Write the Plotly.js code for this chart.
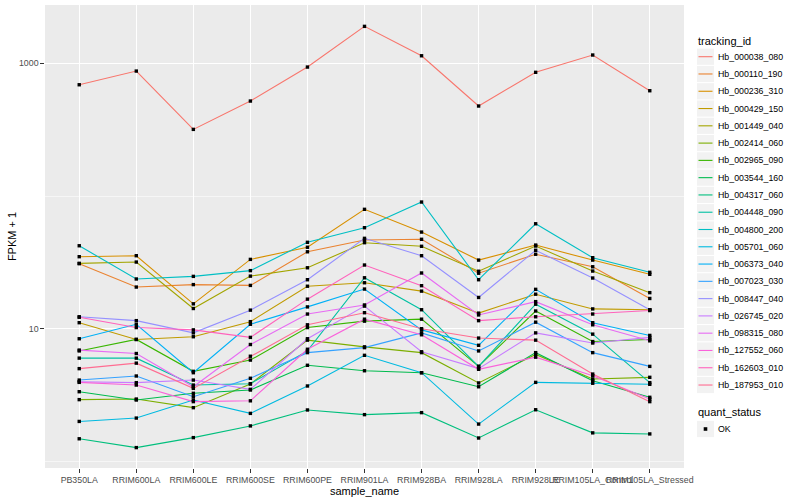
<!DOCTYPE html>
<html><head><meta charset="utf-8">
<script src="https://cdn.plot.ly/plotly-3.0.1.min.js"></script>
<style>html,body{margin:0;padding:0;background:#fff}#chart{width:800px;height:500px}</style>
</head><body><div id="chart"></div>
<script>
const samples = ["PB350LA","RRIM600LA","RRIM600LE","RRIM600SE","RRIM600PE","RRIM901LA","RRIM928BA","RRIM928LA","RRIM928LE","RRIM105LA_Control","RRIM105LA_Stressed"];
const trackingIds = ["Hb_000038_080","Hb_000110_190","Hb_000236_310","Hb_000429_150","Hb_001449_040","Hb_002414_060","Hb_002965_090","Hb_003544_160","Hb_004317_060","Hb_004448_090","Hb_004800_200","Hb_005701_060","Hb_006373_040","Hb_007023_030","Hb_008447_040","Hb_026745_020","Hb_098315_080","Hb_127552_060","Hb_162603_010","Hb_187953_010"];
const colors = ["#F8766D","#EA8331","#D89000","#C09B00","#A3A500","#7CAE00","#39B600","#00BB4E","#00BF7D","#00C1A3","#00BFC4","#00BAE0","#00B0F6","#35A2FF","#9590FF","#C77CFF","#E76BF3","#FA62DB","#FF62BC","#FF6C91"];
const yTickVals = [10, 1000];
const yTickText = ["10", "1000"];
const yMinorVals = [1, 100];

// FPKM + 1 per sample, one array per tracking_id
const s000038_080 = [690, 875, 318, 520, 938, 1901, 1141, 477, 856, 1156, 622];
const s000110_190 = [30.9, 20.6, 21.5, 21.2, 38.0, 46.6, 47.2, 26.2, 36.4, 29.3, 16.9];
const s000236_310 = [34.9, 35.5, 15.4, 33.3, 41.1, 79.4, 53.5, 32.9, 42.7, 32.9, 25.7];
const s000429_150 = [11.1, 8.3, 8.7, 11.3, 20.9, 22.2, 19.2, 13.1, 18.2, 14.1, 13.9];
const s001449_040 = [31.1, 31.8, 14.2, 24.9, 28.8, 44.5, 41.8, 27.1, 42.0, 27.2, 18.7];
const s002414_060 = [2.92, 2.95, 2.54, 3.83, 8.2, 7.3, 6.6, 3.90, 6.4, 4.18, 4.30];
const s002965_090 = [6.8, 8.3, 4.77, 5.8, 10.2, 11.4, 11.8, 5.2, 13.6, 8.0, 8.3];
const s003544_160 = [3.35, 2.90, 3.26, 3.45, 5.3, 4.82, 4.66, 3.65, 6.6, 4.05, 3.04];
const s004317_060 = [1.48, 1.27, 1.51, 1.85, 2.44, 2.25, 2.33, 1.50, 2.45, 1.64, 1.61];
const s004448_090 = [6.0, 6.0, 3.76, 3.85, 6.8, 24.2, 13.9, 5.2, 15.3, 9.1, 3.92];
const s004800_200 = [42.2, 23.7, 24.8, 27.4, 44.8, 57.7, 90.1, 23.4, 61.8, 34.3, 26.6];
const s005701_060 = [2.00, 2.12, 2.90, 2.30, 3.70, 6.3, 4.66, 1.91, 3.94, 3.88, 3.81];
const s006373_040 = [8.4, 10.8, 4.66, 10.8, 14.6, 19.9, 9.8, 7.5, 19.8, 11.1, 8.9];
const s007023_030 = [4.10, 4.40, 3.07, 4.23, 6.6, 7.2, 9.3, 6.8, 11.2, 6.6, 5.2];
const s008447_040 = [12.3, 11.5, 9.3, 13.8, 23.4, 48.0, 35.5, 17.2, 39.0, 24.1, 13.9];
const s026745_020 = [3.98, 3.92, 4.10, 3.49, 8.4, 14.8, 6.7, 5.0, 9.3, 7.8, 8.6];
const s098315_080 = [6.9, 6.5, 3.65, 7.6, 12.9, 15.1, 26.3, 12.7, 16.0, 10.7, 8.1];
const s127552_060 = [3.94, 3.76, 2.82, 2.86, 7.0, 11.8, 9.0, 4.94, 6.1, 4.42, 2.95];
const s162603_010 = [12.2, 10.2, 9.8, 8.6, 16.7, 30.2, 21.1, 11.5, 12.3, 12.9, 13.7];
const s187953_010 = [5.0, 5.5, 3.55, 6.2, 10.7, 13.2, 10.0, 8.5, 8.2, 4.55, 2.82];

const seriesValues = [s000038_080, s000110_190, s000236_310, s000429_150, s001449_040, s002414_060, s002965_090, s003544_160, s004317_060, s004448_090, s004800_200, s005701_060, s006373_040, s007023_030, s008447_040, s026745_020, s098315_080, s127552_060, s162603_010, s187953_010];

const FONT = "Liberation Sans, Arial, Helvetica, sans-serif";

const traces = trackingIds.map((id, i) => ({
  type: "scatter", mode: "lines", x: samples, y: seriesValues[i], name: id,
  line: { color: colors[i], width: 1.1 }, showlegend: false, hoverinfo: "skip"
}));
const ptsX = [], ptsY = [];
seriesValues.forEach(v => v.forEach((val, j) => { ptsX.push(samples[j]); ptsY.push(val); }));
traces.push({
  type: "scatter", mode: "markers", x: ptsX, y: ptsY, name: "OK",
  marker: { color: "#000000", size: 3.4, symbol: "square" }, showlegend: false, hoverinfo: "skip"
});

// plot-area geometry (px) for the hand-laid legend
const PL = 45, PR = 684, PT = 5, PB = 468;
const px = x => (x - PL) / (PR - PL);
const py = y => (PB - y) / (PB - PT);

const shapes = [], annotations = [];
annotations.push({ xref: "paper", yref: "paper", x: px(696), y: py(40.7), xanchor: "left", yanchor: "middle",
  text: "tracking_id", showarrow: false, font: { family: FONT, size: 11, color: "#000000" } });
trackingIds.forEach((id, i) => {
  const cy = 56.7 + i * 17.28;
  shapes.push({ type: "rect", xref: "paper", yref: "paper", x0: px(697), x1: px(714), y0: py(cy - 8.1), y1: py(cy + 8.1),
    fillcolor: "#F2F2F2", line: { width: 0 }, layer: "below" });
  shapes.push({ type: "line", xref: "paper", yref: "paper", x0: px(698.5), x1: px(712.5), y0: py(cy), y1: py(cy),
    line: { color: colors[i], width: 1.1 } });
  annotations.push({ xref: "paper", yref: "paper", x: px(716), y: py(cy), xanchor: "left", yanchor: "middle",
    text: id, showarrow: false, font: { family: FONT, size: 8.8, color: "#000000" } });
});
annotations.push({ xref: "paper", yref: "paper", x: px(696), y: py(412.3), xanchor: "left", yanchor: "middle",
  text: "quant_status", showarrow: false, font: { family: FONT, size: 11, color: "#000000" } });
shapes.push({ type: "rect", xref: "paper", yref: "paper", x0: px(697), x1: px(714), y0: py(429 - 8.1), y1: py(429 + 8.1),
  fillcolor: "#F2F2F2", line: { width: 0 }, layer: "below" });
shapes.push({ type: "rect", xref: "paper", yref: "paper", x0: px(703.7), x1: px(707.3), y0: py(429 - 1.8), y1: py(429 + 1.8),
  fillcolor: "#000000", line: { width: 0 } });
annotations.push({ xref: "paper", yref: "paper", x: px(716), y: py(429), xanchor: "left", yanchor: "middle",
  text: "OK", showarrow: false, font: { family: FONT, size: 8.8, color: "#000000" } });

const layout = {
  width: 800, height: 500,
  margin: { l: PL, r: 800 - PR, t: PT, b: 500 - PB },
  paper_bgcolor: "#FFFFFF", plot_bgcolor: "#EBEBEB",
  font: { family: FONT, size: 8.8, color: "#4D4D4D" },
  showlegend: false,
  xaxis: {
    type: "category", categoryorder: "array", categoryarray: samples,
    range: [-0.6, 10.6], showgrid: true, gridcolor: "#FFFFFF", gridwidth: 1.1,
    zeroline: false, showline: false, ticks: "outside", ticklen: 3.7, tickwidth: 1.1, tickcolor: "#333333",
    tickangle: 0, tickfont: { family: FONT, size: 8.8, color: "#4D4D4D" }, automargin: false,
    title: { text: "sample_name", font: { family: FONT, size: 11, color: "#000000" }, standoff: 0 }
  },
  yaxis: {
    type: "log", range: [-0.05, 3.44], tickmode: "array", tickvals: yTickVals, ticktext: yTickText,
    showgrid: true, gridcolor: "#FFFFFF", gridwidth: 1.1, zeroline: false, showline: false,
    ticks: "outside", ticklen: 3.7, tickwidth: 1.1, tickcolor: "#333333",
    tickfont: { family: FONT, size: 8.8, color: "#4D4D4D" }, automargin: false,
    minor: { tickmode: "array", tickvals: yMinorVals, showgrid: true, gridcolor: "#FFFFFF", gridwidth: 0.55, ticks: "" },
    title: { text: "FPKM + 1", font: { family: FONT, size: 11, color: "#000000" }, standoff: 0 }
  },
  shapes: shapes,
  annotations: annotations
};

Plotly.newPlot("chart", traces, layout, { displayModeBar: false, staticPlot: true });
</script>
</body></html>
